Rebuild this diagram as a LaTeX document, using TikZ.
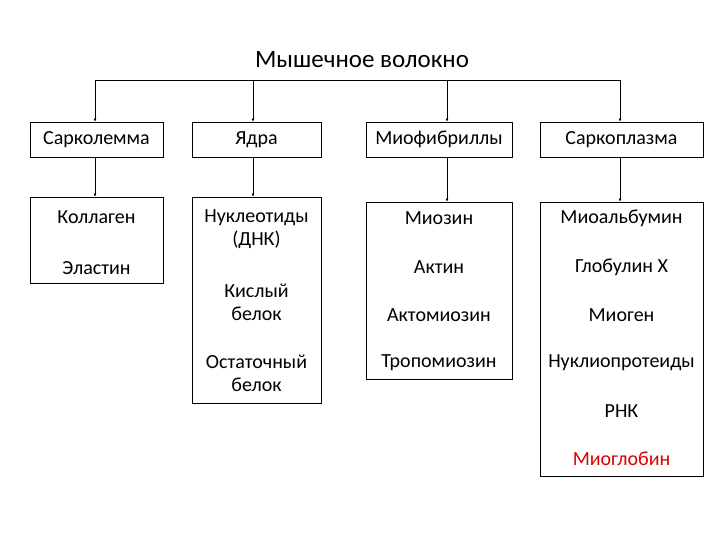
\documentclass[tikz,border=0pt]{standalone}
\usepackage{fontspec}
\setmainfont{Carlito}
\usetikzlibrary{arrows.meta}
\begin{document}
\begin{tikzpicture}[x=1pt,y=-1pt,
  bx/.style={draw,semithick,inner sep=0pt},
  lbl/.style={font=\fontsize{20}{23}\selectfont,align=center},
  con/.style={semithick,-{Latex[length=3pt,width=3pt]}}]
\useasboundingbox (0,0) rectangle (720,540);
\node[lbl,font=\fontsize{25}{28}\selectfont] (title) at (362,60) {Мышечное волокно};
% top row
\node[bx,minimum width=133pt,minimum height=35pt,lbl] (s1) at (96.5,139.5) {Сарколемма};
\node[bx,minimum width=129pt,minimum height=35pt,lbl] (s2) at (256.5,139.5) {Ядра};
\node[bx,minimum width=146pt,minimum height=35pt,lbl] (s3) at (439,139.5) {Миофибриллы};
\node[bx,minimum width=163pt,minimum height=35pt,lbl] (s4) at (621.5,139.5) {Саркоплазма};
% row 2 boxes
\node[bx,minimum width=133pt,minimum height=86pt] (b1) at (96.5,240) {};
\node[bx,minimum width=129pt,minimum height=206pt] (b2) at (256.5,300) {};
\node[bx,minimum width=146pt,minimum height=177pt] (b3) at (439,290.5) {};
\node[bx,minimum width=163pt,minimum height=274pt] (b4) at (621.5,339) {};
% texts
\node[lbl] (t11) at (96.5,217) {Коллаген};
\node[lbl] (t12) at (96.5,268) {Эластин};
\node[lbl] (t21) at (256.5,229) {Нуклеотиды\\(ДНК)};
\node[lbl] (t22) at (256.5,302) {Кислый\\белок};
\node[lbl] (t23) at (256.5,373) {Остаточный\\белок};
\node[lbl] (t31) at (439,218) {Миозин};
\node[lbl] (t32) at (439,267) {Актин};
\node[lbl] (t33) at (439,315) {Актомиозин};
\node[lbl] (t34) at (439,363) {Тропомиозин};
\node[lbl] (t41) at (621.5,218) {Миоальбумин};
\node[lbl] (t42) at (621.5,267) {Глобулин Х};
\node[lbl] (t43) at (621.5,315) {Миоген};
\node[lbl] (t44) at (621.5,363) {Нуклиопротеиды};
\node[lbl] (t45) at (621.5,411) {РНК};
\node[lbl,text={rgb,255:red,220;green,0;blue,0}] (t46) at (621.5,459) {Миоглобин};
% connectors
\coordinate (h1) at (95,80);
\coordinate (h2) at (253,80);
\coordinate (h3) at (447,80);
\coordinate (h4) at (620,80);
\draw[semithick] (h1) -- (h4);
\draw[con] (h1) -- (h1 |- s1.north);
\draw[con] (h2) -- (h2 |- s2.north);
\draw[con] (h3) -- (h3 |- s3.north);
\draw[con] (h4) -- (h4 |- s4.north);
\draw[con] (h1 |- s1.south) -- (h1 |- b1.north);
\draw[con] (h2 |- s2.south) -- (h2 |- b2.north);
\draw[con] (h3 |- s3.south) -- (h3 |- b3.north);
\draw[con] (h4 |- s4.south) -- (h4 |- b4.north);
\end{tikzpicture}
\end{document}
